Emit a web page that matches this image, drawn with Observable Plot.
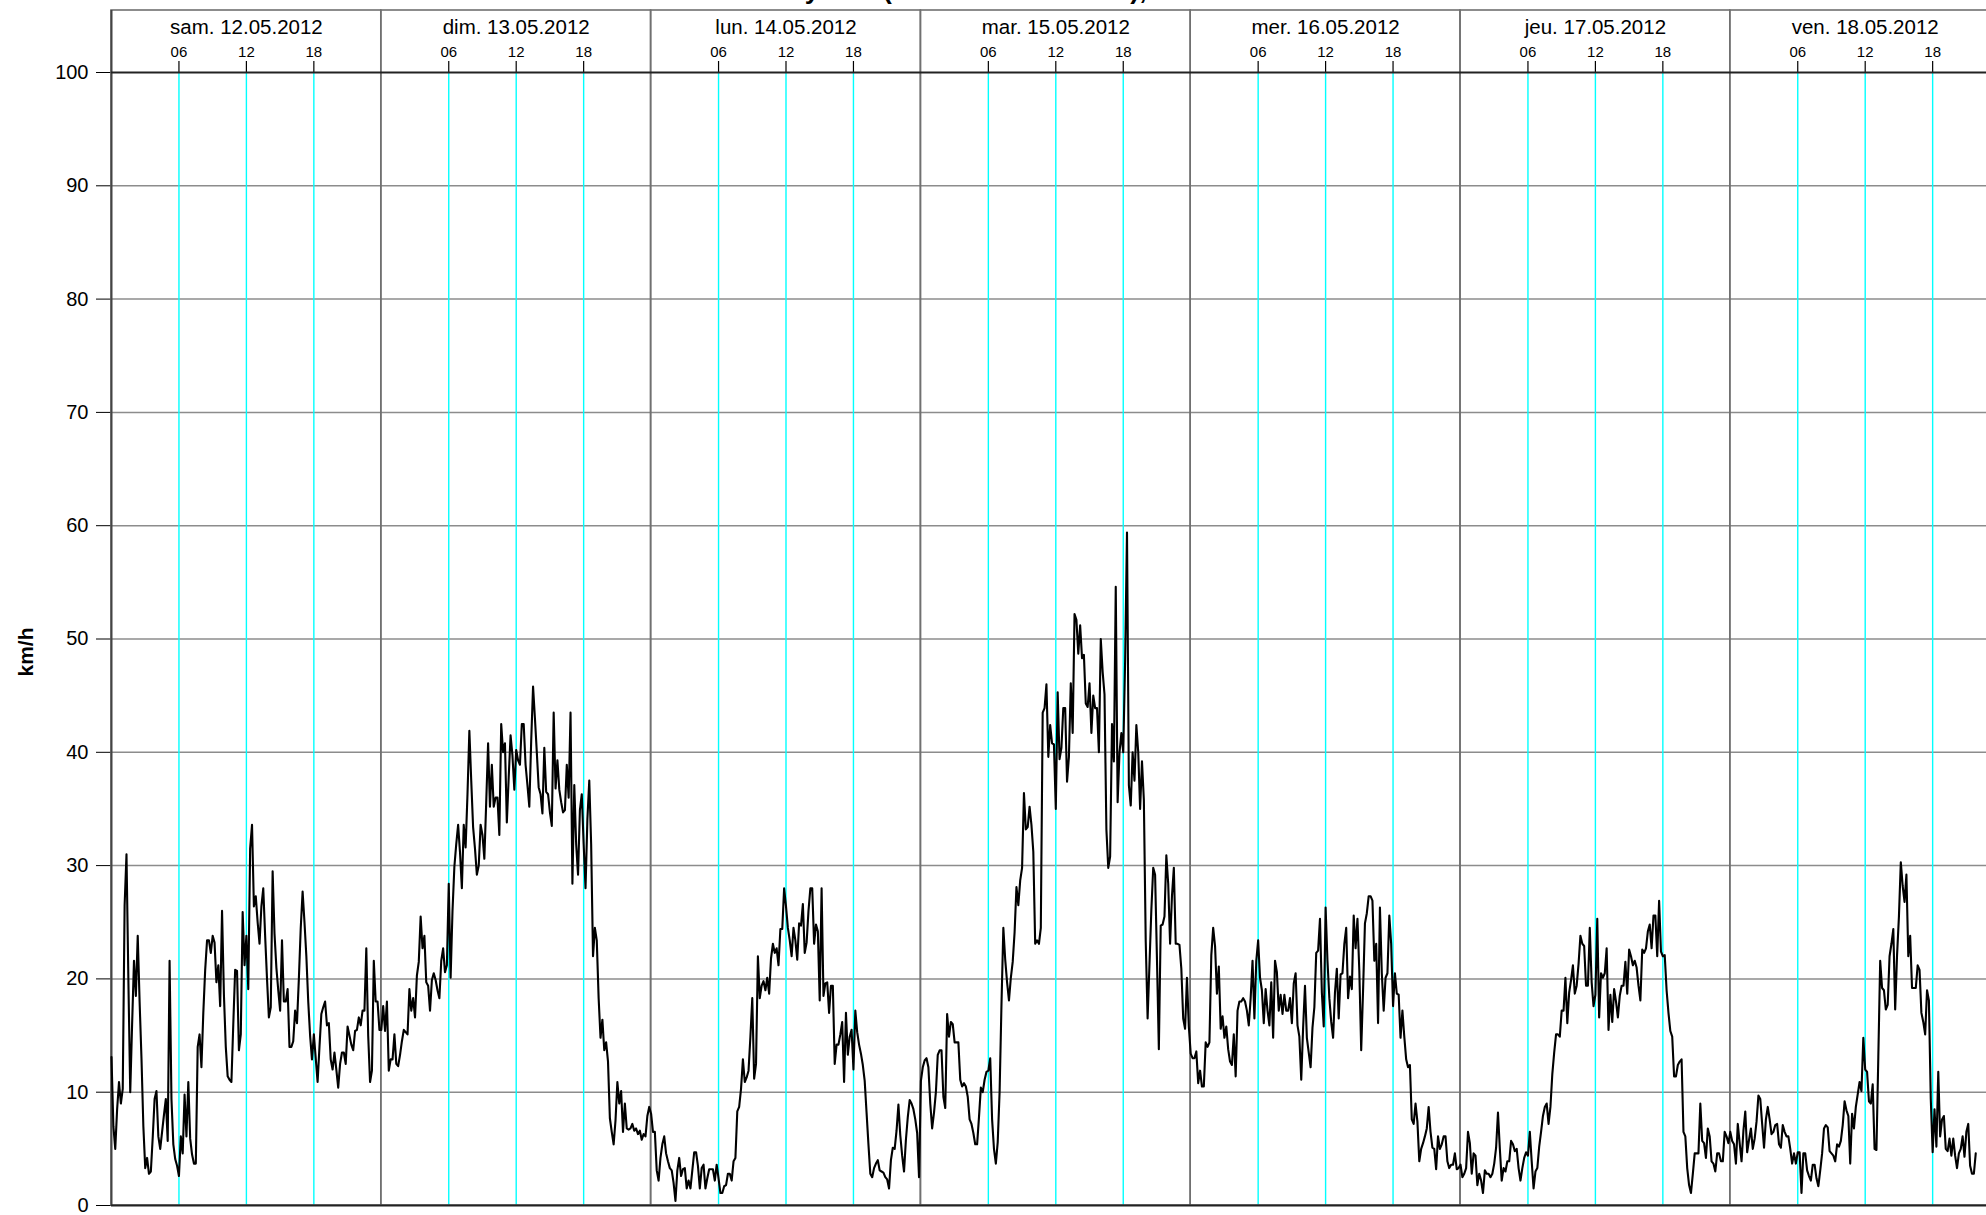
<!DOCTYPE html>
<html>
<head>
<meta charset="utf-8">
<script src="https://cdn.jsdelivr.net/npm/d3@7"></script>
<script src="https://cdn.jsdelivr.net/npm/@observablehq/plot@0.6"></script>
<style>
html, body { margin: 0; padding: 0; background: #fff; overflow: hidden; }
#title { position: absolute; left: 549px; top: -25.5px; font: bold 26.5px "Liberation Sans", Arial, sans-serif; white-space: nowrap; color: #000; }
#ylabel { position: absolute; left: 26px; top: 652px; transform: translate(-50%, -50%) rotate(-90deg); font: bold 21px "Liberation Sans", Arial, sans-serif; white-space: nowrap; color: #000; }
</style>
</head>
<body>
<div id="title"></div>
<div id="ylabel"></div>
<div id="chart"></div>
<script>
// ---------- data ----------
const titleText = "Vitesse du vent à Payerne (valeurs 10 minutes), km/h";
const yLabel = "km/h";
const dayStarts = ["2012-05-12", "2012-05-13", "2012-05-14", "2012-05-15", "2012-05-16", "2012-05-17", "2012-05-18"];
const dayLabels = ["sam. 12.05.2012", "dim. 13.05.2012", "lun. 14.05.2012", "mar. 15.05.2012", "mer. 16.05.2012", "jeu. 17.05.2012", "ven. 18.05.2012"];
const hourTicks = [6, 12, 18];
const hourLabels = ["06", "12", "18"];
const yTicks = [0, 10, 20, 30, 40, 50, 60, 70, 80, 90, 100];
const stepMinutes = 10;

// wind speed (km/h), one value every 10 minutes from 00:00 of each day
const sam12 = [
  13.1, 7, 5.0, 8.5, 10.9, 9.0, 10.3, 26.5, 31.0, 20,
  10, 16, 21.6, 18.5, 23.8, 18, 13, 7, 3.3, 4.2,
  2.8, 3.0, 6, 9.4, 10.1, 6.1, 5.0, 6.5, 8, 9.4,
  5.7, 21.6, 9.4, 5.4, 4.1, 3.5, 2.6, 6.1, 4.6, 9.8,
  6.1, 10.9, 5.9, 4.5, 3.7, 3.7, 14, 15.1, 12.2, 17,
  20.8, 23.4, 23.4, 22.3, 23.8, 23.2, 19.7, 21.2, 17.6, 26,
  18.6, 14, 11.4, 11.1, 10.9, 16, 20.8, 20.7, 13.7, 15.1,
  25.9, 21.2, 23.8, 19.1, 31.5, 33.6, 26.4, 27.3, 25, 23.1,
  26.4, 28.0, 23.8, 20, 16.6, 17.5, 29.5, 24, 21, 19,
  17.2, 23.4, 18, 18, 19.1, 14, 14, 14.5, 17.2, 16.1,
  20, 24.5, 27.7, 25, 22, 18, 15, 12.9, 15.1, 13,
  10.9, 14, 16.9, 17.5, 18, 15.9, 16.1, 12.9, 12, 13.5,
  12, 10.4, 12.5, 13.5, 13.5, 12.5, 15.8, 15, 14.2, 13.7,
  15.4, 15.5, 16.6, 15.9, 17.2, 17.2, 22.7, 15, 10.9, 11.9,
  21.6, 18, 18, 15.5
];
const dim13 = [
  15.5, 17.6, 15.4, 18, 11.9, 12.9, 12.9, 15.1, 12.5, 12.3,
  13.3, 14.5, 15.5, 15.3, 15.1, 19.1, 17.2, 18.3, 16.6, 20.3,
  21.5, 25.5, 22.7, 23.8, 19.7, 19.4, 17.2, 19.9, 20.5, 19.9,
  19, 18.3, 21.6, 22.7, 20.6, 21.2, 28.4, 20.1, 26, 29.9,
  31.9, 33.6, 31.2, 28, 33.6, 31.6, 36.3, 41.9, 37.5, 33.4,
  31.5, 29.2, 30, 33.6, 32.7, 30.6, 35.6, 40.8, 35.2, 38.9,
  35.2, 36, 36, 32.7, 42.5, 40, 40.8, 33.8, 37.8, 41.5,
  39.7, 36.7, 40.2, 39.3, 38.9, 42.5, 42.5, 38.9, 37.1, 35.2,
  41, 45.8, 43, 40, 36.9, 36.3, 34.6, 40.4, 36.5, 36.3,
  34.7, 33.5, 43.5, 36.8, 39.3, 36.7, 35.6, 34.7, 34.9, 38.9,
  36, 43.5, 28.4, 37.1, 31.9, 29.2, 34.9, 36.3, 31.9, 28,
  34.1, 37.5, 31.9, 22, 24.5, 23.4, 18.3, 14.8, 16.4, 13.7,
  14.4, 12.7, 7.7, 6.5, 5.4, 7.5, 10.9, 9, 10.1, 6.5,
  9, 6.8, 6.7, 6.8, 7.2, 6.6, 6.8, 6.3, 6.6, 5.8,
  6.3, 6.1, 7.9, 8.7
];
const lun14 = [
  8.1, 6.5, 6.5, 3.1, 2.2, 4.2, 5.4, 6.1, 4.6, 3.9,
  3.3, 3.1, 2.0, 0.4, 3.1, 4.2, 2.6, 3.2, 3.3, 1.5,
  2.2, 1.5, 3.1, 4.7, 4.7, 3.5, 1.5, 3.3, 3.6, 1.5,
  2.4, 3.2, 3.2, 3.2, 2.2, 3.6, 2.4, 1.1, 1.1, 1.7,
  1.8, 2.8, 2.8, 2.2, 3.9, 4.2, 8.3, 8.7, 10.3, 12.9,
  10.9, 11.3, 11.9, 14.9, 18.3, 11.2, 12.5, 22, 18.3, 19.4,
  19.8, 19, 20.1, 18.7, 21.8, 23.1, 22.3, 22.7, 21.2, 24.4,
  24.4, 28, 26.4, 24.5, 23.4, 22, 24.5, 23.4, 21.7, 24.9,
  24.7, 26.6, 22.3, 23.2, 26, 28, 28, 23.1, 24.8, 24.2,
  18.1, 28, 18.5, 19.6, 19.7, 17, 19.4, 19.4, 12.5, 14.2,
  14.2, 15.1, 16.2, 10.9, 17, 13.3, 14.9, 15.5, 12, 17.2,
  15.3, 14.2, 13.4, 12.4, 11, 8.2, 5.4, 2.8, 2.5, 3.3,
  3.7, 4, 3.1, 3, 2.9, 2.5, 2.3, 1.5, 4, 5.1,
  5, 6.6, 8.9, 6.2, 4.4, 3, 5.8, 7.8, 9.3, 9,
  8.5, 7.6, 6.4, 2.5
];
const mar15 = [
  11, 12.2, 12.8, 13, 12.2, 9, 6.8, 8.2, 10, 13.3,
  13.7, 13.7, 9.6, 8.6, 16.9, 14.9, 16.2, 16, 14.4, 14.4,
  14.4, 11.1, 10.5, 10.8, 10.5, 9.6, 7.6, 7.2, 6.4, 5.4,
  5.4, 7.8, 10.4, 10, 11.1, 11.8, 11.9, 13, 7.6, 5,
  3.7, 5.6, 10, 17.7, 24.5, 21.7, 19.7, 18.1, 20.1, 21.5,
  24.1, 28.1, 26.5, 28.7, 29.8, 36.4, 33.2, 33.4, 35.2, 33.6,
  31.2, 23.1, 23.4, 23.1, 24.5, 43.5, 43.9, 46, 39.6, 42.4,
  40.8, 40.7, 35, 45.3, 39.4, 40.4, 43.9, 43.9, 37.4, 39.6,
  46.1, 41.7, 52.2, 51.7, 48.7, 51.2, 48.3, 48.6, 44.3, 44,
  46.1, 41.7, 45, 43.9, 43.9, 40, 50, 47.1, 45.1, 33.2,
  29.8, 30.8, 42.5, 39.2, 54.6, 35.6, 40, 41.7, 40, 48.1,
  59.4, 37.1, 35.3, 40, 37.5, 42.4, 40, 35, 39.2, 35.8,
  23.3, 16.5, 21.3, 26.1, 29.8, 29.2, 21.7, 13.8, 24.7, 24.8,
  25.5, 30.9, 28.4, 23.1, 27.3, 29.8, 23.1, 23.1, 23, 20.9,
  16.5, 15.6, 20.1, 15.8
];
const mer16 = [
  13.4, 13, 13, 13.6, 10.8, 11.9, 10.5, 10.5, 14.4, 14,
  14.4, 22.1, 24.5, 22.9, 18.7, 21.1, 15.6, 16.7, 14.8, 15.8,
  13.8, 12.7, 12.4, 15.1, 11.4, 17.2, 18, 18, 18.3, 18,
  17.2, 15.9, 18.3, 21.6, 16.5, 21.6, 23.4, 20.1, 19, 16.1,
  19.1, 17.2, 15.9, 19.7, 14.8, 21.6, 20.6, 17.2, 18.6, 16.9,
  18.6, 17.2, 17.2, 18.3, 16.1, 19.6, 20.5, 15.9, 14.9, 11.1,
  15.7, 19.4, 14.8, 13.5, 12.2, 15.7, 17.5, 22.3, 22.5, 25.3,
  18.8, 15.8, 26.3, 21.6, 18.3, 16.2, 14.8, 18.8, 20.9, 16.5,
  20.4, 20.5, 23.1, 24.5, 18.3, 20.2, 19.1, 25.6, 22.7, 25.3,
  20.7, 13.7, 19, 24.9, 25.8, 27.3, 27.3, 26.9, 21.6, 23.1,
  16.1, 26.3, 20.5, 17.2, 20.1, 20.5, 25.6, 23.1, 17.6, 20.5,
  18.7, 18.6, 14.8, 17.2, 14.9, 12.9, 12.2, 12.4, 7.6, 7.2,
  9, 7.4, 3.9, 5, 5.5, 6.1, 6.8, 8.7, 6.5, 5.1,
  5, 3.2, 6.1, 5, 5.4, 6.1, 6.1, 3.9, 3.3, 3.6,
  3.6, 4.6, 3.2, 3.3
];
const jeu17 = [
  3.6, 2.5, 2.8, 3.3, 6.5, 5.5, 2.8, 4.6, 4.4, 1.8,
  2.8, 2.2, 1.1, 3.1, 2.8, 2.8, 2.5, 2.8, 3.7, 5.1,
  8.2, 5, 2.2, 3.3, 3, 3.9, 3.9, 5.7, 5.4, 4.8,
  5, 3.3, 2.2, 3.3, 4.2, 4.7, 4.4, 6.5, 3.9, 1.5,
  3, 3.3, 5.2, 6.5, 7.9, 8.7, 9, 7.2, 8.7, 11.6,
  13.5, 15.1, 15.1, 14.9, 17.2, 17.2, 20.1, 16.1, 18.8, 19.9,
  21.2, 18.7, 19.4, 21.3, 23.8, 23.1, 22.9, 19.4, 19.4, 24.5,
  19.7, 17.6, 18.6, 25.3, 16.6, 20.5, 20.1, 20.5, 22.7, 15.5,
  18.6, 16.2, 19.1, 18, 16.6, 18.5, 19.4, 19.4, 21.5, 18.7,
  22.6, 22, 21.2, 21.6, 21, 19.4, 18.1, 22.6, 22.3, 22.7,
  24.2, 24.8, 22.7, 25.6, 25.6, 22, 26.9, 22.4, 22, 22.1,
  19, 17, 15.4, 14.9, 11.4, 11.4, 12.4, 12.7, 12.9, 6.5,
  6.1, 3.3, 1.8, 1.1, 2.8, 4.6, 4.6, 4.6, 9, 5.7,
  5.5, 4.2, 6.8, 6.1, 3.9, 3.7, 3, 4.6, 4.6, 3.9,
  3.9, 6.5, 6.1, 5.5
];
const ven18 = [
  6.5, 5.7, 5.4, 3.7, 7.2, 5.5, 3.9, 6.6, 8.3, 4.7,
  5.8, 6.8, 5, 5.9, 7.4, 9.7, 9.4, 7.2, 5.1, 7.6,
  8.7, 7.6, 6.3, 6.5, 7.1, 7.2, 5.4, 5.1, 7.1, 6.5,
  6.1, 6.1, 5, 3.7, 4.6, 3.7, 4.7, 4.7, 1.1, 4.6,
  4.6, 3.1, 2.6, 2.2, 3.6, 3.6, 2.4, 1.7, 3.1, 4.6,
  6.8, 7.1, 6.9, 4.8, 4.6, 4.4, 3.9, 5.4, 5.2, 5.7,
  7.1, 9.2, 8.4, 7.9, 3.7, 8.1, 6.8, 8.7, 9.8, 10.9,
  10.1, 14.8, 12, 11.8, 9.2, 9, 10.7, 5, 4.9, 13.1,
  21.6, 19.2, 19, 17.3, 17.7, 22, 23.1, 24.4, 17.3, 22.1,
  25.5, 30.3, 28.2, 26.8, 29.2, 22, 23.8, 19.2, 19.2, 19.2,
  21.2, 20.8, 17, 16.2, 15.1, 19, 18.1, 9.4, 4.7, 8.5,
  5.2, 11.8, 6.1, 7.6, 7.9, 5, 4.8, 5.9, 4.4, 5.9,
  4.4, 3.3, 4.6, 5, 6.1, 4.3, 6.5, 7.2, 3.5, 2.8,
  2.8, 4.6
];
const series = [sam12, dim13, lun14, mar15, mer16, jeu17, ven18];

// ---------- layout ----------
const W = 1986, H = 1215;
const mLeft = 111, mTop = 72, mBottom = 10;
const dayWidth = 269.8;          // pixels per day in the original
const headerH = 62;              // date band above the plotting area
const hourTickLen = 11;
const plotH = H - mBottom - mTop;
const font = "'Liberation Sans', Arial, Helvetica, sans-serif";

document.getElementById("title").textContent = titleText;
document.getElementById("ylabel").textContent = yLabel;

const parseDay = d3.utcParse("%Y-%m-%d");
const days = dayStarts.map((s, i) => {
  const start = parseDay(s);
  return { start, end: d3.utcDay.offset(start, 1), mid: d3.utcHour.offset(start, 12), label: dayLabels[i] };
});
const hours = days.flatMap(d => hourTicks.map((h, j) => ({ t: d3.utcHour.offset(d.start, h), label: hourLabels[j] })));
const data = series.flatMap((vals, d) =>
  vals.map((v, i) => ({ time: d3.utcMinute.offset(days[d].start, i * stepMinutes), kmh: v })));

const chart = Plot.plot({
  width: W,
  height: H,
  marginLeft: mLeft,
  marginRight: 0,
  marginTop: mTop,
  marginBottom: mBottom,
  style: { fontFamily: font, fontSize: "20px", background: "#fff", color: "#000" },
  x: {
    type: "utc",
    domain: [days[0].start, days[days.length - 1].end],
    range: [mLeft, mLeft + dayWidth * days.length],
    axis: null
  },
  y: {
    domain: [0, 100],
    ticks: yTicks,
    tickSize: 15,
    tickPadding: 8,
    tickFormat: d => String(d),
    label: null
  },
  marks: [
    Plot.ruleY(yTicks.filter(v => v > 0 && v < 100), { stroke: "#8c8c8c", strokeWidth: 1.5 }),
    Plot.ruleX(hours, { x: "t", stroke: "#00ffff", strokeWidth: 1.4 }),
    Plot.ruleX(hours, { x: "t", stroke: "#000", strokeWidth: 1.2, insetTop: -hourTickLen, insetBottom: plotH }),
    Plot.rect(days, { x1: "start", x2: "end", insetTop: -headerH, fill: "none", stroke: "#707070", strokeWidth: 1.6 }),
    Plot.ruleX([days[0].start], { insetTop: -headerH, stroke: "#444", strokeWidth: 2 }),
    Plot.ruleY([0, 100], { stroke: "#222", strokeWidth: 1.8 }),
    Plot.line(data, { x: "time", y: "kmh", stroke: "#000", strokeWidth: 2.1 }),
    Plot.text(days, { x: "mid", text: "label", frameAnchor: "top", dy: -39, lineAnchor: "bottom", fontSize: 20.5 }),
    Plot.text(hours, { x: "t", text: "label", frameAnchor: "top", dy: -16, lineAnchor: "bottom", fontSize: 15 })
  ]
});
document.getElementById("chart").appendChild(chart);
</script>
</body>
</html>
